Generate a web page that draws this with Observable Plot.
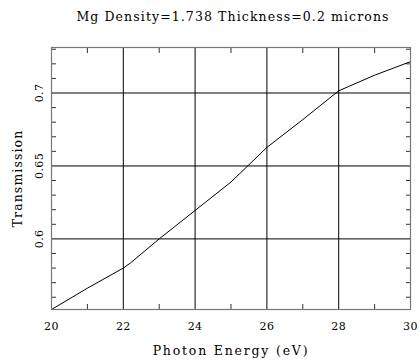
<!DOCTYPE html>
<html>
<head>
<meta charset="utf-8">
<script src="https://cdn.jsdelivr.net/npm/d3@7"></script>
<script src="https://cdn.jsdelivr.net/npm/@observablehq/plot@0.6"></script>
<style>
  html, body { margin: 0; padding: 0; background: #fff; }
  #title { width: 420px; height: 30px; box-sizing: border-box; padding-top: 10px; padding-left: 46px;
           text-align: center; font-family: "DejaVu Serif", serif; font-size: 12.5px; line-height: 14px;
           letter-spacing: 1.1px; color: #000; white-space: nowrap; }
  svg { display: block; }
</style>
</head>
<body>
<div id="title">Mg Density=1.738 Thickness=0.2 microns</div>
<div id="chart"></div>
<script>
const titleText = "Mg Density=1.738 Thickness=0.2 microns";
const xLabel = "Photon Energy (eV)";
const yLabel = "Transmission";

const energy = [20, 21, 22, 22.2, 23, 24, 25, 26, 27, 28, 29, 30];
const transmission = [0.5516, 0.5662, 0.5800, 0.5835, 0.6000, 0.6195, 0.6390, 0.6627, 0.6818, 0.7015, 0.7122, 0.7215];

const xDomain = [20, 30];
const yDomain = [0.5516, 0.7312];
const xMajorTicks = [20, 22, 24, 26, 28, 30];
const xGrid = [22, 24, 26, 28];
const xMinorTicks = [21, 23, 25, 27, 29];
const yMajorTicks = [0.6, 0.65, 0.7];
const yMinorTicks = [0.56, 0.57, 0.58, 0.59, 0.61, 0.62, 0.63, 0.64, 0.66, 0.67, 0.68, 0.69, 0.71, 0.72, 0.73];

document.getElementById("title").textContent = titleText;
const data = energy.map((e, i) => ({e, t: transmission[i]}));

const chart = Plot.plot({
  width: 420,
  height: 332,
  marginLeft: 51,
  marginRight: 10,
  marginTop: 17,
  marginBottom: 53,
  style: {fontFamily: "DejaVu Serif, serif", fontSize: "11px", color: "#000", background: "#fff"},
  x: {domain: xDomain},
  y: {domain: yDomain},
  marks: [
    Plot.ruleX(xGrid, {stroke: "#000", strokeWidth: 1}),
    Plot.ruleY(yMajorTicks, {stroke: "#000", strokeWidth: 1}),
    Plot.axisX(xMinorTicks, {anchor: "bottom", tickSize: -5, text: null, label: null, stroke: "#333"}),
    Plot.axisX(xMinorTicks, {anchor: "top", tickSize: -5, text: null, label: null, stroke: "#333"}),
    Plot.axisY(yMinorTicks, {anchor: "left", tickSize: -5, text: null, label: null, stroke: "#333"}),
    Plot.axisY(yMinorTicks, {anchor: "right", tickSize: -5, text: null, label: null, stroke: "#333"}),
    Plot.axisX(xMajorTicks, {anchor: "bottom", tickSize: 0, tickPadding: 13, label: null, fontSize: "11px"}),
    Plot.text([xLabel], {frameAnchor: "bottom", dy: 45, fontSize: "12.5px"}),
    Plot.text(yMajorTicks, {y: d => d, text: d => String(d), frameAnchor: "left", textAnchor: "middle", dx: -12, rotate: -90, fontSize: "11px"}),
    Plot.text([yLabel], {frameAnchor: "left", textAnchor: "middle", dx: -34, rotate: -90, fontSize: "12.5px"}),
    Plot.line(data, {x: "e", y: "t", stroke: "#000", strokeWidth: 1}),
    Plot.frame({stroke: "#777", strokeWidth: 1.2})
  ]
});
const sel = d3.select(chart).selectAll("text");
sel.filter(function () { return this.textContent === xLabel; }).style("letter-spacing", "1.8px");
sel.filter(function () { return this.textContent === yLabel; }).style("letter-spacing", "1.1px");
sel.filter(function () { return /^[0-9.]+$/.test(this.textContent); }).style("letter-spacing", "0.4px");
document.getElementById("chart").append(chart);
</script>
</body>
</html>
